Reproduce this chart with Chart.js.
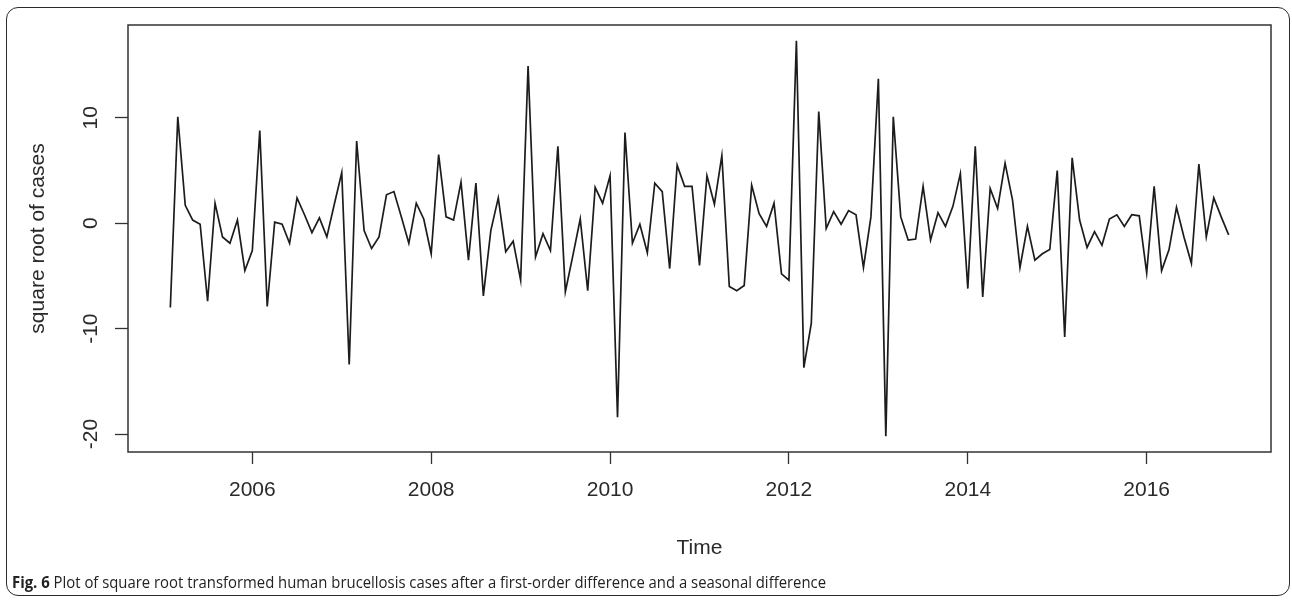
<!DOCTYPE html>
<html>
<head>
<meta charset="utf-8">
<title>Differenced square root brucellosis series</title>
<script src="https://cdn.jsdelivr.net/npm/chart.js@4.4.1/dist/chart.umd.min.js"></script>
<style>
  html, body { margin: 0; padding: 0; background: #fff; }
  body { width: 1292px; height: 601px; position: relative; overflow: hidden; }
  #chart { position: absolute; left: 0; top: 0; }
  #frame {
    position: absolute; left: 6px; top: 7px; width: 1284px; height: 589px;
    border: 1.5px solid #2b2b2b; border-radius: 12px; box-sizing: border-box;
  }
  #caption {
    position: absolute; left: 12px; top: 571px; white-space: nowrap;
    font-family: 'Open Sans', sans-serif; font-size: 15.5px; color: #222;
    transform-origin: 0 50%;
  }
  #caption b { font-weight: 700; }
</style>
</head>
<body>
<div id="frame"></div>
<canvas id="chart" width="1292" height="601"></canvas>
<div id="caption"><b>Fig. 6</b> Plot of square root transformed human brucellosis cases after a first-order difference and a seasonal difference</div>
<script>
// monthly series, first value is Feb 2005
const startYear = 2005;
const startMonth = 2;
const values = [
  -8.0, 10.1, 1.7, 0.3, -0.1, -7.4, 1.9, -1.3, -1.9, 0.3, -4.5,            // 2005
  -2.6, 8.8, -7.9, 0.1, -0.1, -1.9, 2.4, 0.8, -0.9, 0.5, -1.3, 1.8,        // 2006
  4.8, -13.4, 7.8, -0.7, -2.4, -1.3, 2.7, 3.0, 0.6, -1.9, 1.9, 0.4,        // 2007
  -2.9, 6.5, 0.6, 0.3, 3.9, -3.5, 3.8, -6.9, -0.7, 2.4, -2.7, -1.7,        // 2008
  -5.4, 14.9, -3.2, -1.0, -2.6, 7.3, -6.5, -3.1, 0.4, -6.4, 3.4, 1.9,      // 2009
  4.5, -18.4, 8.6, -1.9, -0.1, -2.8, 3.8, 3.0, -4.3, 5.5, 3.5, 3.5,        // 2010
  -4.0, 4.5, 1.8, 6.4, -6.0, -6.4, -5.9, 3.6, 0.9, -0.3, 1.9, -4.8,        // 2011
  -5.4, 17.3, -13.7, -9.5, 10.6, -0.5, 1.1, -0.1, 1.2, 0.8, -4.2, 0.6,     // 2012
  13.7, -20.2, 10.1, 0.6, -1.6, -1.5, 3.5, -1.6, 1.0, -0.3, 1.6, 4.7,      // 2013
  -6.2, 7.3, -7.0, 3.3, 1.4, 5.7, 2.2, -4.2, -0.3, -3.5, -2.9, -2.5,       // 2014
  5.0, -10.8, 6.2, 0.3, -2.3, -0.8, -2.1, 0.4, 0.8, -0.3, 0.8, 0.7,        // 2015
  -4.7, 3.5, -4.5, -2.5, 1.5, -1.3, -3.8, 5.6, -1.3, 2.4, 0.6, -1.1        // 2016
];
const xTicks = [2006, 2008, 2010, 2012, 2014, 2016];
const yTicks = [-20, -10, 0, 10];
const xTitle = 'Time';
const yTitle = 'square root of cases';

const points = values.map((v, i) => ({ x: startYear + (startMonth - 1 + i) / 12, y: v }));

// R-style axis range: data range widened by 4% on each side
function padRange(arr) {
  const lo = Math.min(...arr), hi = Math.max(...arr);
  const d = (hi - lo) * 0.04;
  return [lo - d, hi + d];
}
const [xMin, xMax] = padRange(points.map(p => p.x));
const [yMin, yMax] = padRange(values);

const ink = '#2a2a2a';
const font = { family: "'Liberation Sans', Arial, sans-serif", size: 21 };

// box around the plotting region
const plotBox = {
  id: 'plotBox',
  afterDraw(chart) {
    const { ctx, chartArea: a } = chart;
    ctx.save();
    ctx.strokeStyle = '#333';
    ctx.lineWidth = 1.5;
    ctx.strokeRect(a.left, a.top, a.right - a.left, a.bottom - a.top);
    ctx.restore();
  }
};

new Chart(document.getElementById('chart'), {
  type: 'line',
  data: {
    datasets: [{
      data: points,
      borderColor: '#1c1c1c',
      borderWidth: 1.7,
      pointRadius: 0,
      tension: 0,
      fill: false
    }]
  },
  options: {
    responsive: false,
    animation: false,
    devicePixelRatio: 1,
    layout: { padding: { left: 0, top: 25, right: 21, bottom: 0 } },
    plugins: { legend: { display: false }, tooltip: { enabled: false } },
    scales: {
      x: {
        type: 'linear',
        min: xMin, max: xMax,
        afterBuildTicks: s => { s.ticks = xTicks.map(v => ({ value: v })); },
        afterFit: s => { s.height = 149; },
        border: { display: false },
        grid: { drawOnChartArea: false, drawTicks: true, tickLength: 12, tickColor: '#333', tickWidth: 1.3 },
        ticks: { autoSkip: false, maxRotation: 0, padding: 14, color: ink, font, callback: v => String(v) },
        title: { display: true, text: xTitle, color: ink, font, padding: { top: 0, bottom: 40 } }
      },
      y: {
        min: yMin, max: yMax,
        afterBuildTicks: s => { s.ticks = yTicks.map(v => ({ value: v })); },
        afterFit: s => { s.width = 128; },
        border: { display: false },
        grid: { drawOnChartArea: false, drawTicks: true, tickLength: 13, tickColor: '#333', tickWidth: 1.3 },
        ticks: { minRotation: 90, maxRotation: 90, crossAlign: 'center', padding: 9, color: ink, font, callback: v => String(v) },
        title: { display: true, text: yTitle, color: ink, font, padding: { top: 26, bottom: 0 } }
      }
    }
  },
  plugins: [plotBox]
});

// squeeze the caption to its line width
const cap = document.getElementById('caption');
const capWidth = 814;
cap.style.transform = 'scaleX(' + (capWidth / cap.getBoundingClientRect().width) + ')';
</script>
</body>
</html>
